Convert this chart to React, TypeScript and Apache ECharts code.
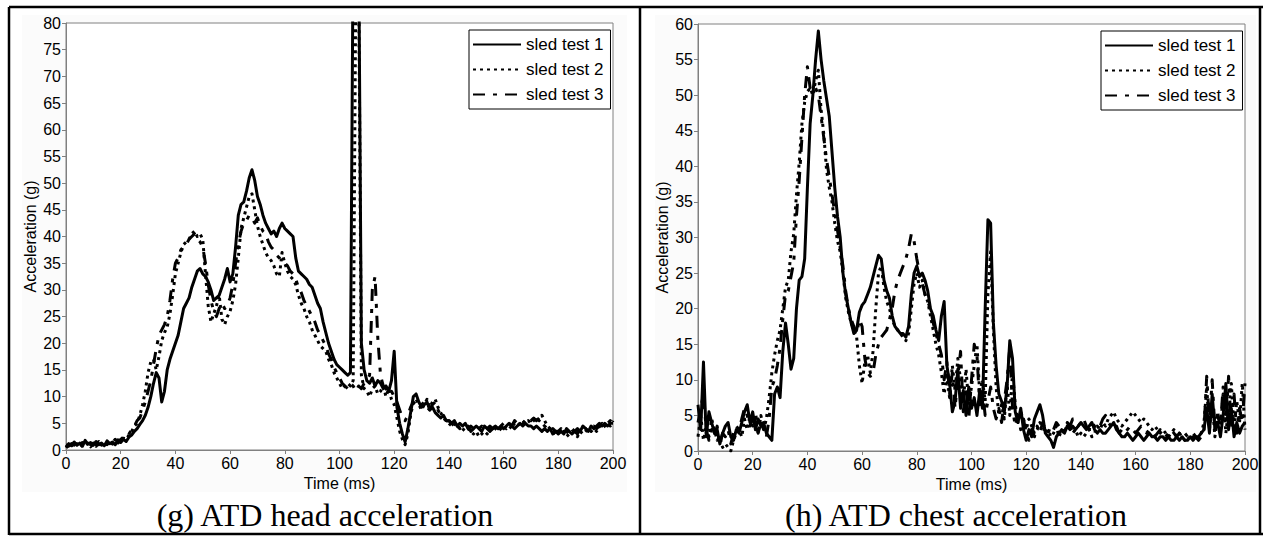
import React, { useEffect, useRef } from "react";
import * as echarts from "echarts";

// ---------- data (1 ms sampling, t = 0 .. 200 ms) ----------
const TIME_STEP_MS = 1;
const SERIES_NAMES = ["sled test 1", "sled test 2", "sled test 3"];
const X_TICKS = { min: 0, max: 200, interval: 20 };
const HEAD_Y = { min: 0, max: 80, interval: 5 };
const CHEST_Y = { min: 0, max: 60, interval: 5 };
const CAPTIONS = ["(g) ATD head acceleration", "(h) ATD chest acceleration"];
const X_NAME = "Time (ms)";
const Y_NAME = "Acceleration (g)";

const HEAD_S1 = [
  0.5, 1.2, 0.8, 1.5, 0.9, 1.3, 0.7, 1.8, 1.1, 1.4,
  0.9, 1.6, 1.0, 1.3, 0.8, 1.7, 1.2, 1.5, 1.0, 1.9,
  1.4, 2.0, 1.6, 2.4, 2.8, 3.5, 4.0, 4.8, 5.5, 6.5,
  8.0, 10.0, 12.5, 14.5, 13.5, 9.0, 11.0, 15.0, 17.0, 18.5,
  20.0, 21.5, 24.0, 26.5, 27.5, 28.5, 30.5, 32.0, 33.5, 34.0,
  33.0, 32.5, 31.5, 30.0, 28.0, 28.5, 29.0, 30.5, 32.0, 34.0,
  31.5, 33.0, 38.0, 44.0, 46.0, 46.5, 48.5, 51.0, 52.5, 50.5,
  47.5, 46.0, 44.0, 42.5, 41.5, 40.5, 41.0, 40.0, 41.5, 42.5,
  41.5, 41.0, 40.5, 40.0, 36.0, 33.5, 33.0, 32.5, 32.0, 31.0,
  30.5, 29.0, 27.5, 26.5, 24.0, 22.0, 20.0, 18.5, 17.0, 16.0,
  15.5, 15.0, 14.5, 14.0, 14.5, 95.0, 100.0, 95.0, 20.0, 15.0,
  13.0, 12.5, 13.5, 12.0, 13.0, 12.5, 11.5, 12.0, 11.0, 13.0,
  18.5, 8.0, 5.0, 3.0, 1.5, 4.0, 7.0, 10.0, 10.5, 9.0,
  8.0, 8.5, 9.0, 7.5, 8.0, 7.0, 6.5, 6.0, 6.5, 5.5,
  5.5, 5.0, 5.5, 4.5, 5.0, 4.5, 5.0, 4.0, 4.5, 4.0,
  4.5, 4.0, 3.5, 4.5, 4.0, 3.5, 4.0, 4.5, 4.0, 4.5,
  4.0, 4.5, 5.0, 4.5, 4.0, 4.5, 5.0, 4.5, 5.0, 4.5,
  4.5, 4.0, 4.5, 4.0, 3.5, 4.0, 3.5, 4.0, 3.0, 3.5,
  3.0, 3.5, 3.0, 4.0, 3.5, 3.0, 3.5, 4.0, 3.5, 4.5,
  4.0, 3.5, 4.5, 4.0, 4.5, 5.0, 4.5, 5.0, 4.5, 5.0,
  5.0,
];

const HEAD_S2 = [
  0.8, 0.4, 1.0, 0.6, 1.2, 0.5, 1.0, 0.8, 1.3, 0.6,
  1.1, 0.7, 1.4, 0.9, 1.2, 1.0, 1.5, 1.1, 1.6, 1.3,
  1.8, 2.2, 2.0, 2.8, 3.5, 4.5, 5.0, 6.5, 8.5, 11.0,
  14.5, 16.5, 17.0, 15.0, 17.5, 20.5, 22.0, 23.0, 25.5, 29.0,
  33.0, 35.0, 37.0, 38.5, 39.0, 39.5, 40.5, 41.0, 40.0, 40.5,
  39.5, 33.0, 27.0, 24.0, 25.5, 27.0, 29.0, 24.5, 23.5, 25.0,
  26.0, 28.0, 31.0, 36.0, 41.5, 43.5, 45.5, 47.5, 48.0, 45.0,
  42.0, 40.0, 38.5, 37.0, 36.0, 35.5, 34.5, 33.0, 32.5, 37.0,
  35.0, 33.5, 32.5, 32.0, 31.0, 29.0, 27.5, 26.5, 25.0, 24.0,
  22.5, 21.5, 20.5, 19.5, 19.0, 18.5, 17.0, 16.0, 14.5, 13.5,
  12.5, 11.5, 12.0, 12.5, 12.0, 13.0, 90.0, 90.0, 14.0, 11.5,
  11.0, 10.0, 11.5, 12.0, 10.5, 11.0, 12.0, 10.0, 11.5, 9.5,
  8.5, 6.0, 3.5, 2.0, 1.0, 3.0, 6.5, 9.0, 9.5, 8.5,
  7.5, 8.5, 9.5, 8.0, 9.0, 9.5, 8.0, 7.0, 6.0, 5.5,
  5.0, 4.5, 5.0, 4.0, 4.5, 4.0, 3.5, 4.0, 3.5, 3.0,
  3.5, 2.5, 3.0, 3.5, 3.0, 4.0, 3.5, 4.0, 3.5, 4.0,
  4.5, 4.0, 4.5, 4.0, 5.0, 4.5, 5.0, 5.5, 5.0, 5.5,
  5.0, 5.5, 6.0, 5.5, 6.5, 5.5, 4.5, 4.0, 3.5, 3.0,
  3.5, 3.0, 3.5, 2.5, 3.0, 3.5, 3.0, 2.5, 3.5, 3.0,
  3.5, 4.0, 3.5, 4.0, 3.5, 4.5, 4.0, 4.5, 5.0, 4.5,
  5.5,
];

const HEAD_S3 = [
  1.0, 0.7, 1.2, 0.9, 1.6, 1.0, 1.4, 0.8, 1.2, 1.0,
  1.3, 1.0, 1.6, 1.2, 1.5, 1.1, 1.8, 1.4, 2.0, 1.6,
  2.0, 2.4, 2.2, 3.0, 3.8, 4.5, 5.5, 6.0, 7.5, 9.0,
  11.0, 13.0, 16.0, 19.0, 21.5, 22.5, 23.5, 25.0, 28.0, 32.0,
  35.0, 36.0, 37.5, 38.0, 38.5, 39.5, 40.0, 40.5, 39.5, 39.0,
  38.0, 35.0, 31.0, 28.0, 26.0, 25.0, 26.5, 27.5, 26.5, 27.0,
  28.5, 31.0, 35.0, 38.5, 41.0, 42.5, 43.0, 44.0, 43.5, 42.5,
  43.5, 42.0, 41.0, 40.5, 39.0, 38.0, 37.5, 36.5, 36.0, 35.5,
  35.0, 34.5, 33.5, 33.0, 32.0, 30.5, 29.5, 28.0, 27.0, 26.0,
  25.0, 24.0, 22.5, 21.5, 20.5, 19.5, 18.0, 17.0, 15.5, 14.5,
  13.5, 12.5, 12.0, 11.5, 12.5, 12.0, 11.0, 12.0, 11.5, 12.5,
  13.0, 14.0, 30.0, 32.5, 21.0, 14.0, 12.0, 11.5, 10.5, 11.0,
  10.0, 9.0, 7.5, 6.0, 5.5, 6.5, 8.0, 9.0, 8.5, 8.0,
  8.5, 9.0, 8.0, 7.5, 8.5, 9.0, 7.5, 6.5, 6.0, 5.5,
  5.5, 5.0, 4.5, 5.0, 4.0, 4.5, 4.0, 4.5, 3.5, 4.0,
  3.5, 4.0, 4.5, 3.5, 4.0, 4.5, 4.0, 4.5, 4.0, 4.5,
  5.0, 4.5, 5.0, 4.5, 5.5, 5.0, 5.5, 5.0, 5.5, 6.0,
  5.5, 6.0, 5.5, 6.0, 5.0, 4.5, 4.0, 3.5, 4.0, 3.5,
  3.5, 4.0, 3.0, 3.5, 3.0, 4.0, 3.5, 3.0, 4.0, 3.5,
  4.0, 3.5, 4.0, 4.5, 4.0, 4.5, 5.0, 4.5, 5.0, 5.5,
  5.0,
];

const CHEST_S1 = [
  6.5, 3.0, 12.5, 2.0, 5.5, 4.0, 2.5, 3.0, 1.0, 2.5,
  3.5, 4.0, 2.0, 1.5, 3.0, 2.5, 4.0, 5.5, 6.5, 4.0,
  5.5, 3.0, 4.5, 3.5, 4.0, 2.5, 2.0, 1.5, 8.0, 9.0,
  7.5, 14.0, 18.0, 15.0, 11.5, 13.0, 20.0, 24.0, 24.5, 27.0,
  37.0, 46.0, 50.0, 55.0, 59.0, 55.0, 52.0, 49.5, 47.0, 42.0,
  37.0, 33.0, 30.0, 25.0, 22.0, 20.0, 18.0, 16.5, 17.0, 19.5,
  20.5, 21.0, 22.0, 23.0, 24.5, 26.0, 27.5, 27.0, 24.0, 22.5,
  21.5, 19.0, 17.5, 17.0, 16.5, 16.5, 16.0, 17.5, 22.0, 25.0,
  26.0, 24.5, 25.0, 24.0, 22.5, 20.0, 19.0, 17.0, 15.5, 19.0,
  21.0, 12.0, 9.5, 5.5, 7.0, 11.5, 6.0, 8.5, 5.0, 9.0,
  6.0, 7.5, 5.0, 8.5, 6.0, 20.0, 32.5, 32.0, 18.0, 12.0,
  8.0, 7.0, 5.5, 9.0, 15.5, 13.0, 5.5, 4.0, 6.0, 3.0,
  1.5, 3.0, 2.0, 4.5, 5.5, 6.5, 5.0, 2.5, 2.0, 1.5,
  0.5, 2.0, 2.5, 3.0, 2.5, 3.5, 3.0, 3.5, 3.0, 3.5,
  4.0, 3.5, 3.0, 3.5, 4.0, 3.0, 2.5, 3.0, 2.5, 2.5,
  3.0, 3.5, 4.0, 3.0, 2.5, 2.0, 2.0, 2.5, 2.0, 1.5,
  2.0, 2.5, 2.0, 1.5, 2.0, 2.5, 2.0, 2.0, 1.5, 2.0,
  2.0, 1.5, 2.0, 1.5, 1.5, 2.0, 1.5, 2.0, 1.5, 1.5,
  2.0, 1.5, 2.0, 2.0, 2.5, 3.0, 6.0, 2.5, 8.0, 3.0,
  4.0, 2.0, 5.0, 9.5, 3.0, 6.0, 2.0, 4.0, 2.5, 3.5,
  4.0,
];

const CHEST_S2 = [
  2.0, 5.0, 1.5, 3.5, 2.0, 4.5, 3.0, 1.5, 2.0, 0.5,
  1.0, 0.5, 0.0, 1.5, 2.5, 3.0, 2.0, 4.5, 3.0, 5.0,
  3.5, 4.5, 2.5, 5.0, 3.0, 4.5, 7.5, 11.0, 13.5, 15.5,
  17.0, 20.0, 23.0, 24.0, 28.0, 30.5, 36.0, 40.5, 46.0, 49.0,
  50.5, 51.0, 50.0, 52.0, 53.5, 48.0, 44.5, 39.5, 37.0, 35.0,
  32.0, 29.5, 28.0, 25.0, 21.5, 19.5, 18.0, 17.0, 16.0, 12.0,
  9.5, 12.5, 13.5, 11.0, 14.0, 20.0, 25.0, 26.0, 23.0, 21.0,
  20.0, 18.5, 17.5, 17.0, 16.5, 16.0, 15.5, 16.5, 20.0, 23.5,
  25.0, 23.0, 24.0, 22.0, 21.0, 19.0, 17.0, 15.0, 13.5, 11.0,
  8.0, 10.5, 7.5, 12.0, 8.5, 13.0, 10.0, 7.0, 11.5, 6.5,
  9.0, 12.0, 15.0, 8.0, 10.0, 7.0, 22.0, 28.0, 17.0, 9.0,
  5.0, 6.5, 4.5, 9.5, 5.0, 11.0, 6.5, 4.0, 5.5, 4.5,
  3.0, 4.5, 3.5, 2.5, 3.0, 4.0, 3.5, 2.5, 3.0, 2.0,
  2.5, 3.5, 2.0, 3.0, 2.5, 4.0, 3.5, 2.5, 3.0, 2.0,
  2.5, 2.0, 2.5, 3.0, 2.0, 2.5, 3.5, 3.0, 4.0, 3.5,
  4.5, 5.0, 5.5, 4.5, 4.0, 3.5, 4.0, 4.5, 5.0, 5.5,
  5.0, 4.5, 4.0, 4.5, 4.0, 3.5, 3.0, 3.5, 3.0, 2.5,
  3.0, 2.5, 2.0, 2.5, 3.0, 2.0, 2.5, 2.0, 1.5, 2.0,
  1.5, 2.0, 1.5, 2.0, 2.5, 4.0, 9.0, 3.0, 7.0, 2.0,
  5.5, 3.0, 8.0, 2.5, 6.0, 9.5, 3.0, 7.0, 4.0, 9.5,
  3.0,
];

const CHEST_S3 = [
  4.0, 6.0, 8.0, 3.0, 1.5, 3.0, 2.0, 3.5, 1.0, 2.5,
  2.0, 3.0, 1.0, 2.5, 3.5, 3.0, 4.5, 6.0, 5.0, 3.5,
  4.5, 5.5, 2.5, 4.0, 3.0, 2.0, 4.5, 9.0, 10.0, 12.0,
  14.5, 18.5, 22.0, 22.5, 24.5, 26.5, 33.0, 38.0, 44.0, 50.0,
  54.0, 51.0, 50.5, 51.0, 50.0, 47.0, 44.0, 41.0, 38.5, 36.0,
  33.5, 31.0, 28.5, 26.0, 22.5, 20.0, 18.5, 17.5, 16.5, 18.5,
  17.5, 13.0, 11.0, 10.5, 11.0, 13.5, 15.0, 16.0, 16.5, 17.0,
  18.5, 20.0, 22.5, 24.0, 25.0, 26.0, 27.0, 28.5, 30.5, 29.5,
  27.0, 25.0, 23.5, 22.0, 21.0, 20.0, 18.0, 16.5, 15.0, 13.5,
  10.0, 12.5, 8.0, 11.0, 6.0, 10.5, 14.0, 5.5, 9.0, 4.5,
  10.0, 15.0, 13.5, 6.5, 8.5, 5.0, 7.0, 9.0, 6.0, 4.5,
  6.0, 4.0, 7.0, 10.0, 14.5, 6.0, 3.5, 5.0, 3.0, 4.5,
  2.5, 1.5, 3.0, 2.0, 3.5, 2.5, 4.0, 3.0, 2.5, 3.5,
  3.0, 4.0, 3.5, 2.5, 3.0, 4.0, 3.5, 4.5, 4.0, 3.5,
  4.0, 4.5, 3.5, 3.0, 4.0, 3.5, 3.0, 3.5, 4.5, 5.0,
  4.0, 3.5, 3.0, 3.5, 2.5, 3.0, 2.5, 3.0, 3.5, 3.0,
  2.5, 3.0, 3.5, 3.0, 2.5, 3.0, 2.5, 2.0, 2.5, 3.0,
  2.5, 2.0, 2.5, 3.0, 2.5, 2.0, 2.5, 2.0, 2.5, 2.0,
  2.0, 2.5, 2.0, 1.5, 2.0, 3.0, 10.5, 4.0, 10.0, 3.0,
  5.0, 3.5, 9.0, 4.0, 10.5, 3.0, 8.0, 2.5, 6.0, 4.0,
  9.5,
];

// ---------- styles ----------
const SANS = 'Arial, "Liberation Sans", sans-serif';
const SERIF = '"Times New Roman", "Liberation Serif", serif';
const AXIS_GRAY = "#808080";
const LINE_TYPES: any[] = ["solid", [3, 4], [12, 8, 4, 8]];

const toXY = (vals: number[]) => vals.map((v, i) => [i * TIME_STEP_MS, v]);

function makeXAxis(gridIndex: number) {
  return {
    type: "value",
    gridIndex,
    min: X_TICKS.min,
    max: X_TICKS.max,
    interval: X_TICKS.interval,
    name: X_NAME,
    nameLocation: "middle",
    nameGap: 25,
    nameTextStyle: { fontSize: 16, fontFamily: SANS, color: "#000" },
    axisLine: { show: true, lineStyle: { color: AXIS_GRAY, width: 1 } },
    axisTick: { show: true, inside: false, length: 4, lineStyle: { color: AXIS_GRAY } },
    axisLabel: { fontSize: 16, fontFamily: SANS, color: "#000", margin: 5 },
    splitLine: { show: false },
  };
}

function makeYAxis(gridIndex: number, cfg: { min: number; max: number; interval: number }) {
  return {
    type: "value",
    gridIndex,
    min: cfg.min,
    max: cfg.max,
    interval: cfg.interval,
    name: Y_NAME,
    nameLocation: "middle",
    nameRotate: 90,
    nameGap: 28,
    nameTextStyle: { fontSize: 16, fontFamily: SANS, color: "#000" },
    axisLine: { show: true, lineStyle: { color: AXIS_GRAY, width: 1 } },
    axisTick: { show: true, inside: false, length: 4, lineStyle: { color: AXIS_GRAY } },
    axisLabel: { fontSize: 16, fontFamily: SANS, color: "#000", margin: 5 },
    splitLine: { show: false },
  };
}

function makeSeries(vals: number[], idx: number, gridIndex: number) {
  return {
    type: "line",
    name: SERIES_NAMES[idx],
    xAxisIndex: gridIndex,
    yAxisIndex: gridIndex,
    data: toXY(vals),
    showSymbol: false,
    symbol: "none",
    clip: true,
    lineStyle: { color: "#000", width: 3, type: LINE_TYPES[idx], cap: "butt", join: "round" },
    itemStyle: { color: "#000" },
    emphasis: { disabled: true },
    z: 3 - idx,
  };
}

function makeLegend(left: number, top: number) {
  return {
    show: true,
    orient: "vertical",
    left,
    top,
    data: SERIES_NAMES,
    itemWidth: 48,
    itemHeight: 16,
    itemGap: 8,
    padding: [6, 7, 6, 3],
    borderColor: "#000",
    borderWidth: 1,
    backgroundColor: "#fff",
    selectedMode: false,
    itemStyle: { opacity: 0 },
    textStyle: { fontSize: 17, fontFamily: SANS, color: "#000", lineHeight: 16 },
  };
}

export default function App() {
  const ref = useRef<HTMLDivElement>(null);

  useEffect(() => {
    if (!ref.current) return;
    const chart = echarts.init(ref.current, undefined, { renderer: "svg" });
    const frame = { stroke: "#000", lineWidth: 2.5 };
    chart.setOption({
      animation: false,
      backgroundColor: "#fff",
      textStyle: { fontFamily: SANS },
      grid: [
        { left: 66, top: 23, width: 547, height: 427, show: true, backgroundColor: "#fff", borderColor: AXIS_GRAY, borderWidth: 1 },
        { left: 698, top: 24, width: 547, height: 427, show: true, backgroundColor: "#fff", borderColor: AXIS_GRAY, borderWidth: 1 },
      ],
      xAxis: [makeXAxis(0), makeXAxis(1)],
      yAxis: [makeYAxis(0, HEAD_Y), makeYAxis(1, CHEST_Y)],
      legend: [makeLegend(469, 30), makeLegend(1101, 31)],
      series: [
        makeSeries(HEAD_S1, 0, 0),
        makeSeries(HEAD_S2, 1, 0),
        makeSeries(HEAD_S3, 2, 0),
        makeSeries(CHEST_S1, 0, 1),
        makeSeries(CHEST_S2, 1, 1),
        makeSeries(CHEST_S3, 2, 1),
      ],
      graphic: [
        { type: "rect", z: -10, silent: true, shape: { x: 22, y: 15, width: 605, height: 477 }, style: { fill: "#fbfbfb" } },
        { type: "rect", z: -10, silent: true, shape: { x: 655, y: 15, width: 601, height: 477 }, style: { fill: "#fbfbfb" } },
        { type: "line", silent: true, shape: { x1: 9, y1: 7, x2: 1263, y2: 7 }, style: frame },
        { type: "line", silent: true, shape: { x1: 9, y1: 7, x2: 9, y2: 535 }, style: frame },
        { type: "line", silent: true, shape: { x1: 640, y1: 7, x2: 640, y2: 535 }, style: frame },
        { type: "line", silent: true, shape: { x1: 1260, y1: 7, x2: 1260, y2: 535 }, style: frame },
        { type: "line", silent: true, shape: { x1: 9, y1: 534, x2: 1263, y2: 534 }, style: frame },
        {
          type: "text",
          silent: true,
          x: 325,
          y: 515,
          style: { text: CAPTIONS[0], fontSize: 32, fontFamily: SERIF, fill: "#000", align: "center", verticalAlign: "middle" },
        },
        {
          type: "text",
          silent: true,
          x: 956,
          y: 515,
          style: { text: CAPTIONS[1], fontSize: 32, fontFamily: SERIF, fill: "#000", align: "center", verticalAlign: "middle" },
        },
      ],
    });
    return () => chart.dispose();
  }, []);

  return (
    <div
      ref={ref}
      style={{ position: "absolute", left: 0, top: 0, width: 1263, height: 536 }}
    />
  );
}
